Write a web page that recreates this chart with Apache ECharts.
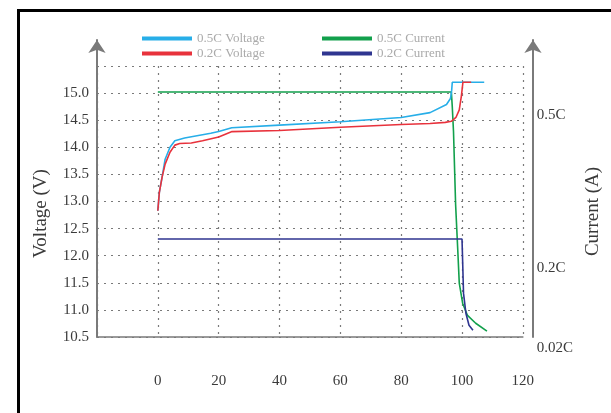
<!DOCTYPE html>
<html>
<head>
<meta charset="utf-8">
<script src="https://cdn.jsdelivr.net/npm/echarts@6/dist/echarts.min.js"></script>
<style>
html,body{margin:0;padding:0;overflow:hidden;background:#fff;}
#chart{position:absolute;left:0;top:0;width:611px;height:413px;}
#frame{position:absolute;left:17px;top:9px;width:700px;height:500px;border:3px solid #000;pointer-events:none;}
</style>
</head>
<body>
<div id="chart"></div>
<div id="frame"></div>
<script>
// ---- data (x = time, left axis voltage V, right axis current in C) ----
const seriesNames = ['0.5C Voltage', '0.2C Voltage', '0.5C Current', '0.2C Current'];
const xTickLabels = ['0', '20', '40', '60', '80', '100', '120'];
const rightTickValues = [0.5, 0.2, 0.02];
const rightTickLabels = ['0.5C', '0.2C', '0.02C'];

const voltage05 = [[0,12.83],[0.5,13.17],[1.4,13.45],[2.4,13.78],[4.0,14.0],[5.6,14.12],[8.8,14.17],[17.4,14.26],[20,14.29],[24.3,14.36],[40,14.41],[60,14.47],[80,14.55],[89.5,14.64],[94.9,14.79],[96.2,14.9],[96.6,15.05],[96.8,15.2],[107.3,15.2]];
const voltage02 = [[0,12.83],[0.5,13.17],[1.4,13.45],[2.4,13.69],[4.0,13.91],[5.6,14.04],[7.2,14.07],[11,14.08],[14.7,14.12],[20,14.19],[24.4,14.29],[40,14.31],[60,14.37],[80,14.42],[89.5,14.44],[94.5,14.46],[96.5,14.48],[98.0,14.55],[99.1,14.69],[99.8,14.95],[100.3,15.2],[103,15.2]];
const current05 = [[0,0.5],[96.5,0.5],[96.8,0.47],[97.2,0.42],[97.9,0.27],[98.6,0.178],[99.1,0.11],[100.2,0.069],[101.8,0.044],[104.5,0.028],[108.2,0.012]];
const current02 = [[0,0.2],[100,0.2],[100.1,0.178],[100.5,0.089],[101.3,0.048],[102.3,0.024],[103.6,0.014]];

const serif = '"Liberation Serif", "DejaVu Serif", serif';
const axisGray = '#7a7a7a';
const colors = ['#27aee8', '#e8323c', '#12a04c', '#2f3590'];

const chart = echarts.init(document.getElementById('chart'), null, {renderer: 'canvas'});

const arrowAxis = (pos) => ({
  gridIndex: 0, type: 'value', position: pos, min: 0, max: 1,
  axisLine: {show: true, onZero: false, symbol: ['none', 'arrow'], symbolSize: [13, 13], lineStyle: {color: axisGray, width: 2}},
  axisTick: {show: false}, axisLabel: {show: false}, splitLine: {show: false}
});

const option = {
  animation: false,
  backgroundColor: '#fff',
  grid: [
    {left: 97, right: 78, top: 40, bottom: 76},
    {left: 97, right: 78, top: 66, bottom: 76}
  ],
  legend: [
    {data: [seriesNames[0], seriesNames[1]], orient: 'vertical', left: 137, top: 27, itemGap: 2,
     icon: 'rect', itemWidth: 50, itemHeight: 4,
     textStyle: {fontFamily: serif, fontSize: 13, color: '#aaa'}},
    {data: [seriesNames[2], seriesNames[3]], orient: 'vertical', left: 317, top: 27, itemGap: 2,
     icon: 'rect', itemWidth: 50, itemHeight: 4,
     textStyle: {fontFamily: serif, fontSize: 13, color: '#aaa'}}
  ],
  xAxis: [
    {gridIndex: 0, type: 'value', min: -20, max: 120, show: false},
    {gridIndex: 1, type: 'value', min: -20, max: 120, interval: 20,
     axisLine: {show: true, onZero: false, lineStyle: {color: axisGray, width: 1.5}},
     axisTick: {show: false},
     axisLabel: {margin: 37, fontFamily: serif, fontSize: 15, color: '#3a3a3a',
       formatter: v => { const i = xTickLabels.indexOf(String(v)); return i >= 0 ? xTickLabels[i] : ''; }},
     splitLine: {show: true, lineStyle: {color: axisGray, width: 1.2, type: [2, 5]}}}
  ],
  yAxis: [
    arrowAxis('left'),
    arrowAxis('right'),
    {gridIndex: 1, type: 'value', position: 'left', min: 10.5, max: 15.5, interval: 0.5,
     name: 'Voltage (V)', nameLocation: 'middle', nameGap: 46,
     nameTextStyle: {fontFamily: serif, fontSize: 19, color: '#3a3a3a', padding: [0, 24, 0, 0]},
     axisLine: {show: false, onZero: false}, axisTick: {show: false},
     axisLabel: {margin: 8, fontFamily: serif, fontSize: 15, color: '#3a3a3a', padding: [0, 0, 12, 0],
       formatter: v => (v >= 15.5 ? '' : v.toFixed(1))},
     splitLine: {show: true, lineStyle: {color: axisGray, width: 1.2, type: [2, 5]}}},
    {gridIndex: 1, type: 'value', position: 'right', min: 0, max: 0.553,
     name: 'Current (A)', nameLocation: 'middle', nameGap: 57,
     nameTextStyle: {fontFamily: serif, fontSize: 19, color: '#3a3a3a', padding: [0, 20, 0, 0]},
     axisLine: {show: false, onZero: false}, axisTick: {show: false}, splitLine: {show: false},
     axisLabel: {customValues: rightTickValues, margin: 14, fontFamily: serif, fontSize: 15, color: '#3a3a3a',
       formatter: v => {
         const i = rightTickValues.indexOf(v);
         const key = ['a', 'b', 'c'][i];
         return '{' + key + '|' + rightTickLabels[i] + '}';
       },
       rich: {
         a: {fontFamily: serif, fontSize: 15, color: '#3a3a3a', padding: [46, 0, 0, 0]},
         b: {fontFamily: serif, fontSize: 15, color: '#3a3a3a', padding: [58, 0, 0, 0]},
         c: {fontFamily: serif, fontSize: 15, color: '#3a3a3a', padding: [42, 0, 0, 0]}
       }}}
  ],
  series: [
    {name: seriesNames[0], type: 'line', xAxisIndex: 1, yAxisIndex: 2, data: voltage05, showSymbol: false, symbol: 'none',
     lineStyle: {color: colors[0], width: 1.6}, itemStyle: {color: colors[0]}, z: 4},
    {name: seriesNames[1], type: 'line', xAxisIndex: 1, yAxisIndex: 2, data: voltage02, showSymbol: false, symbol: 'none',
     lineStyle: {color: colors[1], width: 1.6}, itemStyle: {color: colors[1]}, z: 5},
    {name: seriesNames[2], type: 'line', xAxisIndex: 1, yAxisIndex: 3, data: current05, showSymbol: false, symbol: 'none',
     lineStyle: {color: colors[2], width: 1.6}, itemStyle: {color: colors[2]}, z: 3},
    {name: seriesNames[3], type: 'line', xAxisIndex: 1, yAxisIndex: 3, data: current02, showSymbol: false, symbol: 'none',
     lineStyle: {color: colors[3], width: 1.6}, itemStyle: {color: colors[3]}, z: 3}
  ]
};
chart.setOption(option);
</script>
</body>
</html>
